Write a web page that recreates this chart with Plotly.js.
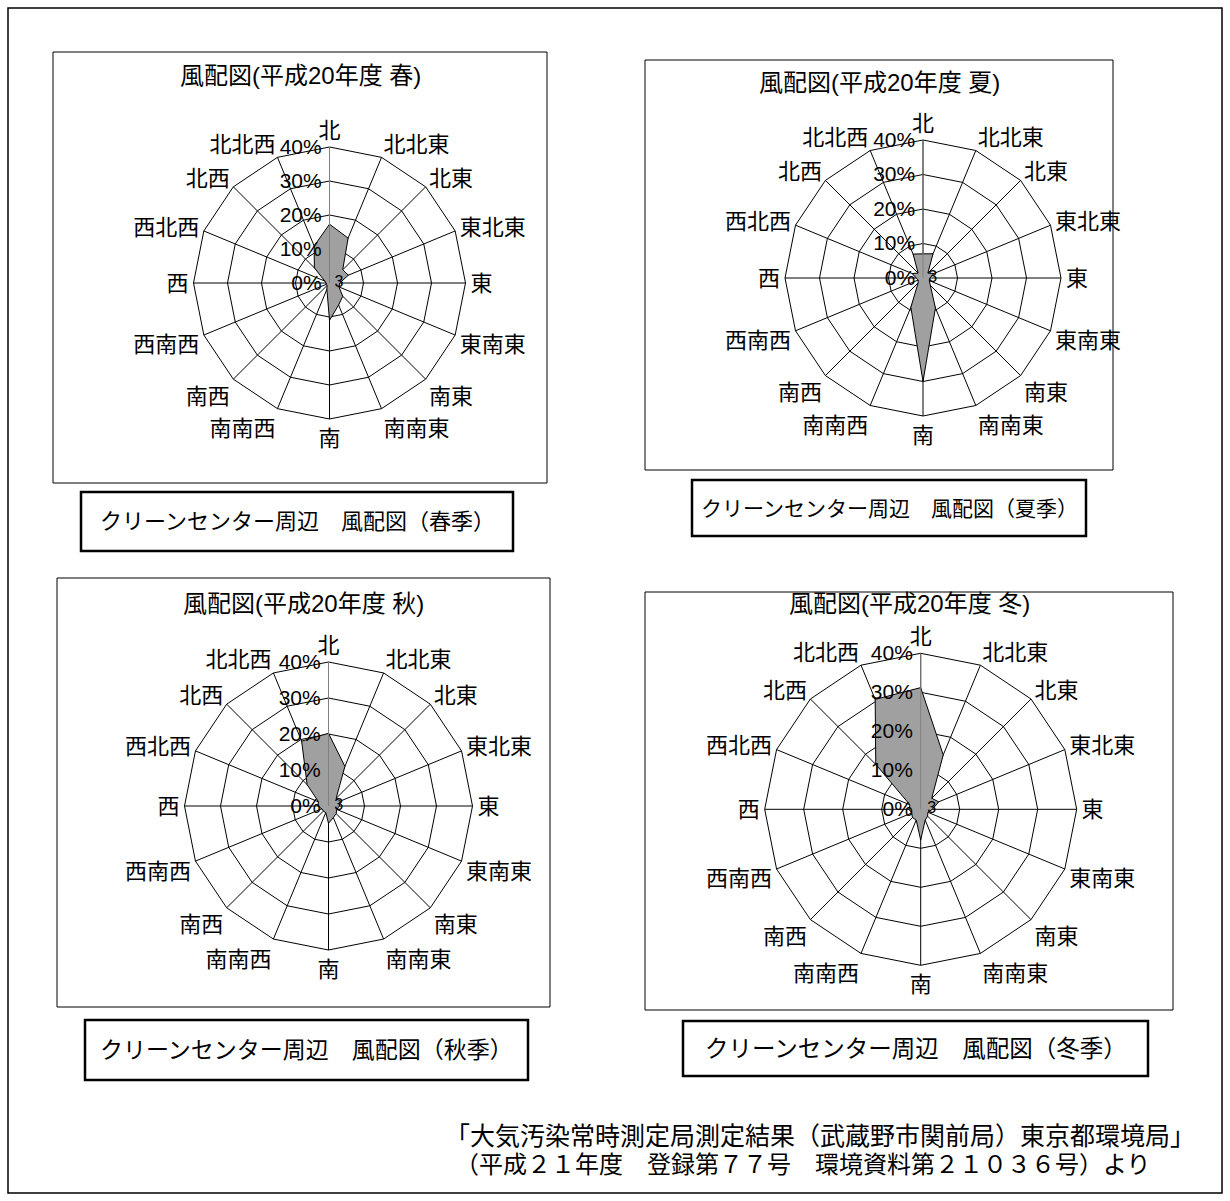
<!DOCTYPE html>
<html>
<head>
<meta charset="utf-8">
<script src="https://cdn.plot.ly/plotly-3.0.1.min.js"></script>
<style>body{margin:0;background:#fff}</style>
</head>
<body>
<div id="chart" style="width:1230px;height:1201px"></div>
<script>
// 16方位 (clockwise from north)
const directions = ["北","北北東","北東","東北東","東","東南東","南東","南南東","南","南南西","南西","西南西","西","西北西","北西","北北西"];

// 出現率 (%)
const spring = [17.3, 14.3, 5.5, 6, 3, 3, 5.5, 7, 11, 2, 1, 1, 1, 1.5, 6.3, 11.8];
const summer = [7, 7.6, 2, 3.4, 2, 2, 3, 9.4, 30, 9.2, 2, 1.5, 2, 3.4, 2, 7.5];
const autumn = [20.2, 11.9, 3, 3.5, 3, 2.5, 3, 3.5, 4.8, 2, 2, 2, 3, 3, 8.4, 19.5];
const winter = [31.2, 15.1, 4, 5, 3, 2, 2.5, 3, 7.9, 3, 3, 2.5, 3, 3, 16.3, 30.5];

const radialTicks = [0, 10, 20, 30, 40];
const radialLabels = radialTicks.map(v => v + "%");
const chartTitles = ["風配図(平成20年度 春)", "風配図(平成20年度 夏)", "風配図(平成20年度 秋)", "風配図(平成20年度 冬)"];
const captions = ["クリーンセンター周辺　風配図（春季）", "クリーンセンター周辺　風配図（夏季）",
                  "クリーンセンター周辺　風配図（秋季）", "クリーンセンター周辺　風配図（冬季）"];
const source = ["「大気汚染常時測定局測定結果（武蔵野市関前局）東京都環境局」",
                "（平成２１年度　登録第７７号　環境資料第２１０３６号）より"];

const W = 1230, H = 1201;
const fx = px => px / W;
const fy = py => 1 - py / H;
const FONT = "Liberation Sans, Arial, 'Noto Sans CJK JP', sans-serif";

// panel geometry in px
const panels = [
  {vals: spring, box: [53, 52, 547, 483], cx: 329.5, cy: 283, R: 136, ty: 76, cap: [81, 492, 513, 551], capSize: 22},
  {vals: summer, box: [645, 60, 1113, 470], cx: 923, cy: 278, R: 138, ty: 82, cap: [692, 480, 1086, 536], capSize: 21},
  {vals: autumn, box: [57, 578, 550, 1007], cx: 328.5, cy: 806, R: 144, ty: 603, cap: [85, 1020, 528, 1080], capSize: 23},
  {vals: winter, box: [645, 592, 1173, 1010], cx: 920.7, cy: 809.3, R: 156, ty: 603, cap: [683, 1021, 1148, 1076], capSize: 23.5}
];

const data = [];
const layout = {
  width: W, height: H,
  margin: {l: 0, r: 0, t: 0, b: 0},
  paper_bgcolor: "#fff",
  showlegend: false,
  font: {family: FONT, color: "#000"},
  shapes: [
    {type: "rect", xref: "paper", yref: "paper", x0: fx(8), x1: fx(1222), y0: fy(1193), y1: fy(8),
     line: {color: "#000", width: 1.5}}
  ],
  annotations: []
};

panels.forEach((p, i) => {
  const sub = i === 0 ? "polar" : "polar" + (i + 1);
  data.push({
    type: "scatterpolar", subplot: sub,
    r: p.vals.concat([p.vals[0]]),
    theta: directions.concat([directions[0]]),
    mode: "lines", fill: "toself",
    fillcolor: "rgb(160,160,160)",
    line: {color: "#000", width: 1},
    hoverinfo: "skip"
  });
  data.push({
    type: "scatterpolar", subplot: sub,
    r: [0], theta: [directions[0]], mode: "markers",
    marker: {color: "#000", size: 7}, hoverinfo: "skip"
  });
  data.push({
    type: "scatterpolar", subplot: sub,
    r: [2.8], theta: [directions[4]], mode: "text", text: ["3"],
    textfont: {size: 16, color: "#000"}, hoverinfo: "skip"
  });
  layout[sub] = {
    domain: {x: [fx(p.cx - p.R), fx(p.cx + p.R)], y: [fy(p.cy + p.R), fy(p.cy - p.R)]},
    gridshape: "linear",
    bgcolor: "#fff",
    angularaxis: {
      type: "category", categoryarray: directions,
      direction: "clockwise", rotation: 90,
      showline: true, linecolor: "#000", linewidth: 1,
      gridcolor: "#000", gridwidth: 1,
      ticks: "", tickfont: {size: 22, family: FONT}
    },
    radialaxis: {
      range: [0, 40], tickvals: radialTicks, ticktext: radialLabels,
      angle: 90, side: "counterclockwise", tickangle: 90,
      showline: true, linecolor: "#808080", linewidth: 1,
      gridcolor: "#000", gridwidth: 1,
      ticks: "", tickfont: {size: 21, family: FONT}
    }
  };
  layout.shapes.push({type: "rect", xref: "paper", yref: "paper", layer: "below",
    x0: fx(p.box[0]), x1: fx(p.box[2]), y0: fy(p.box[3]), y1: fy(p.box[1]),
    line: {color: "#000", width: 1}});
  layout.shapes.push({type: "rect", xref: "paper", yref: "paper",
    x0: fx(p.cap[0]), x1: fx(p.cap[2]), y0: fy(p.cap[3]), y1: fy(p.cap[1]),
    line: {color: "#000", width: 2.5}});
  layout.annotations.push({xref: "paper", yref: "paper", xanchor: "center", yanchor: "middle",
    x: fx((p.box[0] + p.box[2]) / 2), y: fy(p.ty),
    text: chartTitles[i], showarrow: false, font: {size: 24}});
  layout.annotations.push({xref: "paper", yref: "paper", xanchor: "center", yanchor: "middle",
    x: fx((p.cap[0] + p.cap[2]) / 2), y: fy((p.cap[1] + p.cap[3]) / 2),
    text: captions[i], showarrow: false, font: {size: p.capSize}});
});

layout.annotations.push({xref: "paper", yref: "paper", x: fx(443), y: fy(1136), xanchor: "left", yanchor: "middle",
  text: source[0], showarrow: false, font: {size: 25}});
layout.annotations.push({xref: "paper", yref: "paper", x: fx(453), y: fy(1164), xanchor: "left", yanchor: "middle",
  text: source[1], showarrow: false, font: {size: 24}});

Plotly.newPlot("chart", data, layout, {staticPlot: true});
</script>
</body>
</html>
